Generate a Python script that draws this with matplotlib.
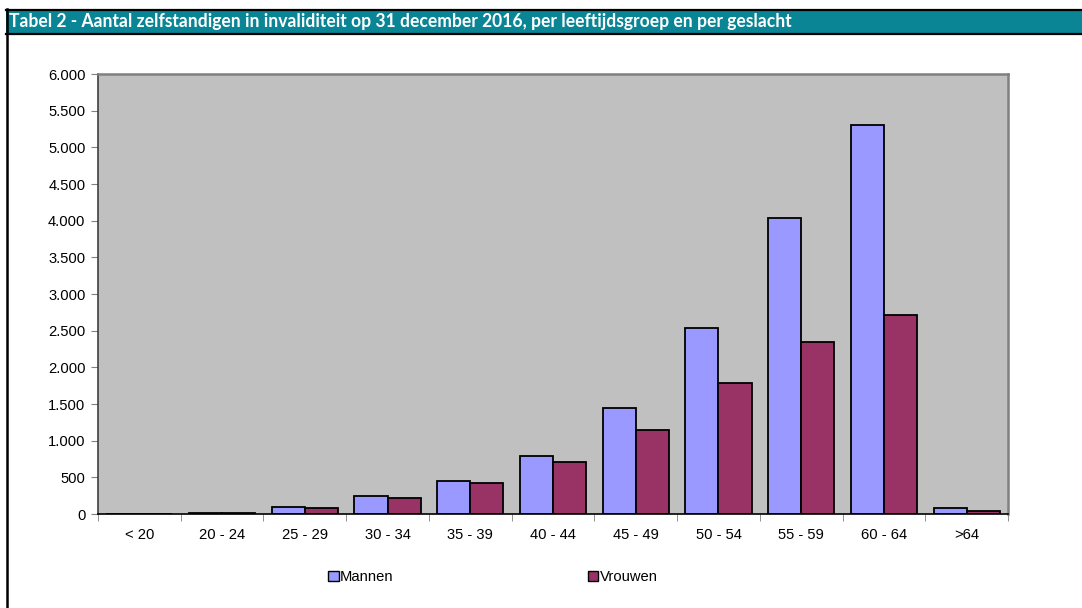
import numpy as np
import matplotlib.pyplot as plt
from matplotlib.patches import Rectangle
from matplotlib.lines import Line2D
from matplotlib.ticker import FuncFormatter

categories = ['< 20', '20 - 24', '25 - 29', '30 - 34', '35 - 39', '40 - 44',
              '45 - 49', '50 - 54', '55 - 59', '60 - 64', '>64']
mannen = [0, 20, 95, 245, 445, 790, 1450, 2540, 4030, 5310, 85]
vrouwen = [0, 12, 85, 225, 420, 710, 1150, 1780, 2350, 2720, 35]

title = 'Tabel 2 - Aantal zelfstandigen in invaliditeit op 31 december 2016, per leeftijdsgroep en per geslacht'

W, H = 1082, 608
fig = plt.figure(figsize=(W / 100, H / 100), dpi=100)
plt.rcParams['font.family'] = ['Liberation Sans', 'DejaVu Sans']

# title bar and left frame line
fig.patches.append(Rectangle((6 / W, 1 - 33 / H), 1.2, 23 / H, transform=fig.transFigure,
                             facecolor='#0A8595', edgecolor='none'))
fig.lines.append(Line2D([6 / W, 1], [1 - 9.5 / H] * 2, transform=fig.transFigure, color='black', lw=1.6))
fig.lines.append(Line2D([6 / W, 1], [1 - 33.5 / H] * 2, transform=fig.transFigure, color='black', lw=1.6))
fig.lines.append(Line2D([6.5 / W] * 2, [0, 1 - 9 / H], transform=fig.transFigure, color='black', lw=1.8))
fig.text(9 / W, 1 - 22 / H, title, color='white', fontsize=12.65, fontweight='bold',
         family=['Lato', 'DejaVu Sans'], va='center', ha='left')

ax = fig.add_axes([98 / W, (H - 514) / H, 910 / W, 440 / H])
ax.set_facecolor('#C0C0C0')

x = np.arange(len(categories))
w = 0.4
ax.bar(x - w / 2, mannen, w, color='#9999FF', edgecolor='black', lw=1.3, label='Mannen')
ax.bar(x + w / 2, vrouwen, w, color='#993366', edgecolor='black', lw=1.3, label='Vrouwen')

ax.set_xlim(-0.5, len(categories) - 0.5)
ax.set_ylim(0, 6000)
ax.set_yticks(np.arange(0, 6001, 500))
ax.yaxis.set_major_formatter(FuncFormatter(lambda v, p: f'{int(v):,}'.replace(',', '.')))
ax.set_xticks(x)
ax.set_xticklabels(categories)
ax.set_xticks(np.arange(-0.5, len(categories)), minor=True)
ax.tick_params(axis='x', which='major', length=0, pad=10, labelsize=10.6)
ax.tick_params(axis='x', which='minor', length=5, color='#808080', direction='out')
ax.tick_params(axis='y', length=5, color='#808080', labelsize=10.6, pad=4)

for s in ['top', 'right']:
    ax.spines[s].set_color('#808080')
    ax.spines[s].set_linewidth(1.8)
ax.spines['left'].set_color('#404040')
ax.spines['left'].set_linewidth(1.2)
ax.spines['bottom'].set_color('black')
ax.spines['bottom'].set_linewidth(1.2)

leg = fig.legend(loc='center', bbox_to_anchor=(493 / W, 1 - 577 / H), ncol=2,
                 frameon=False, fontsize=10.6, handlelength=0.7, handleheight=0.7,
                 handletextpad=0.1, columnspacing=13.2)
for h in leg.legend_handles:
    h.set_linewidth(1)

fig.savefig('out.png', dpi=100)
